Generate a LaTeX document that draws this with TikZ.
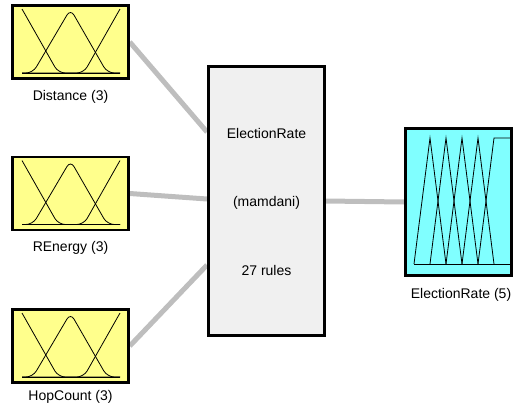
\documentclass[tikz,border=0pt]{standalone}
\usepackage{fontspec}
\setmainfont{Liberation Sans}
\usepackage{tikz}
\usetikzlibrary{positioning, calc, backgrounds}
\definecolor{myyellow}{RGB}{255,255,140}
\definecolor{mycyan}{RGB}{128,255,255}
\definecolor{mylight}{RGB}{240,240,240}
\definecolor{mywire}{RGB}{190,190,190}
\tikzset{
  inbox/.style={rectangle, draw=black, fill=myyellow,
    minimum width=116pt, minimum height=73pt, line width=2.5pt},
  outbox/.style={rectangle, draw=black, fill=mycyan,
    minimum width=106pt, minimum height=147pt, line width=2.5pt},
  fisbox/.style={rectangle, draw=black, fill=mylight,
    minimum width=116pt, minimum height=269pt, line width=2.2pt},
  tag/.style={font=\fontsize{14}{16}\selectfont, inner sep=0pt},
  mf/.style={line width=0.8pt, color=black},
  softmf/.style={mf, rounded corners=7pt},
  wire/.style={line width=5pt, color=mywire}
}
% three smooth sets drawn inside an input box
\newcommand{\bellset}[1]{%
  \begin{scope}[shift={(#1.center)}]
    \draw[mf] (-48.5,31) -- (49.5,31);
    \draw[softmf] (-48.5,-33) -- (-12.2,31) -- (49.5,31);
    \draw[softmf] (-48.5,31) -- (-37.7,31) -- (0,-33) -- (36.8,31) -- (49.5,31);
    \draw[softmf] (-48.5,31) -- (13.2,31) -- (49.5,-33);
  \end{scope}}

\begin{document}
\begin{tikzpicture}[x=1pt, y=-1pt]
  \useasboundingbox (0,0) rectangle (514,413);

  % Input variables
  \node[inbox] (dist) at (70.5,42) {};
  \node[tag] (distlbl) at (70.5,97) {Distance (3)};
  \node[inbox] (renergy) at (70.5,193.5) {};
  \node[tag] (renergylbl) at (70.5,248) {REnergy (3)};
  \node[inbox] (hop) at (70.5,346) {};
  \node[tag] (hoplbl) at (70.5,397) {HopCount (3)};
  \bellset{dist}
  \bellset{renergy}
  \bellset{hop}

  % Rule block
  \node[fisbox] (fis) at (266.5,201) {};
  \node[tag] (fisname) at (266.5,133) {ElectionRate};
  \node[tag] (fistype) at (266.5,203) {(mamdani)};
  \node[tag] (fisrules) at (266.5,270) {27 rules};
  \coordinate (in1) at (207,132);
  \coordinate (in2) at (207,199);
  \coordinate (in3) at (207,265);

  % Output variable
  \node[outbox] (rate) at (458.5,202) {};
  \node[tag] (ratelbl) at (461,295) {ElectionRate (5)};
  \begin{scope}[shift={(rate.center)}]
    \draw[mf] (-44.5,62) -- (52.5,62);
    \foreach \p in {-28.5,-12.5,3.5,19.5}
      \draw[mf] (\p-16,62) -- (\p,-64) -- (\p+16,62);
    \draw[mf] (19.5,62) -- (35.5,-64) -- (52.5,-64);
  \end{scope}

  % Wires
  \begin{scope}[on background layer]
    \draw[wire] (dist.east) -- (in1);
    \draw[wire] (renergy.east) -- (in2);
    \draw[wire] (hop.east) -- (in3);
    \draw[wire] (fis.east) -- (rate.west);
  \end{scope}
\end{tikzpicture}
\end{document}
